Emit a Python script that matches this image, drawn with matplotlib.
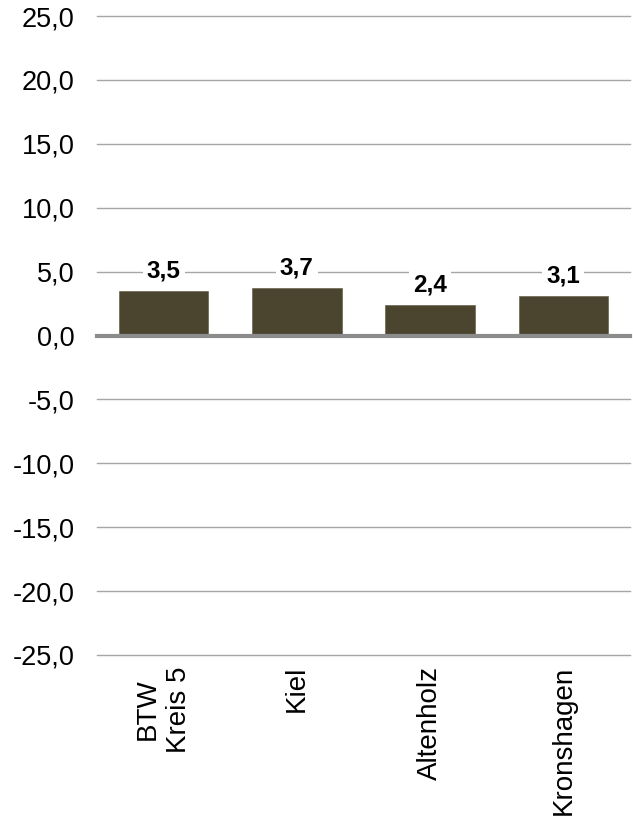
import matplotlib
matplotlib.use("Agg")
from matplotlib import pyplot as plt
import numpy as np

plt.rcParams['font.family'] = ['Liberation Sans', 'DejaVu Sans']

categories = ['BTW\nKreis 5', 'Kiel', 'Altenholz', 'Kronshagen']
values = [3.5, 3.7, 2.4, 3.1]
yticks = [-25, -20, -15, -10, -5, 0, 5, 10, 15, 20, 25]

fig = plt.figure(figsize=(6.33, 8.16), dpi=100)
ax = fig.add_axes([97/633, 1 - 655/816, 533/633, 639/816])

x = np.arange(len(categories))
bars = ax.bar(x, values, width=0.67, color='#4b4530', edgecolor='#6b6650',
              linewidth=0.5, zorder=3)

for b, v in zip(bars, values):
    ax.annotate('{:.1f}'.format(v).replace('.', ','),
                (b.get_x() + b.get_width() / 2, v),
                xytext=(0, 6), textcoords='offset points',
                ha='center', va='bottom', fontsize=17.5, fontweight='bold',
                bbox=dict(facecolor='white', edgecolor='none', pad=3),
                zorder=5)

ax.set_ylim(-25, 25)
ax.set_xlim(-0.5, len(categories) - 0.5)
ax.set_yticks(yticks)
ax.set_yticklabels(['{:.1f}'.format(t).replace('.', ',') for t in yticks],
                   fontsize=19.5)
ax.set_xticks(x)
ax.set_xticklabels(categories, rotation=90, fontsize=20, ha='center', va='top',
                   linespacing=1.25)
ax.tick_params(axis='both', length=0)
ax.tick_params(axis='y', pad=16)
ax.tick_params(axis='x', pad=8)

for t in yticks:
    if t == 0:
        ax.axhline(t, color='#8c8c8c', lw=3, zorder=4, clip_on=False)
    else:
        ax.axhline(t, color='#a6a6a6', lw=1, zorder=1, clip_on=False)

for s in ax.spines.values():
    s.set_visible(False)

plt.savefig('out.png', dpi=100)
